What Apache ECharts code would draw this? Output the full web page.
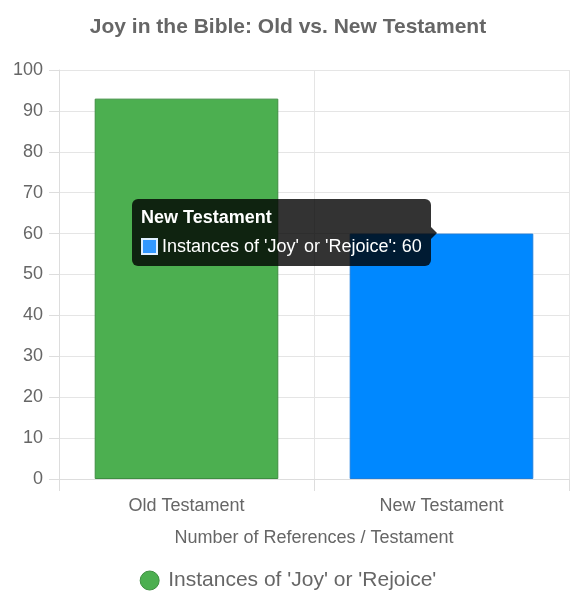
<!DOCTYPE html>
<html>
<head>
<meta charset="utf-8">
<script src="https://cdn.jsdelivr.net/npm/echarts@6/dist/echarts.min.js"></script>
<style>
html, body { margin: 0; padding: 0; background: #fff; }
#chartView { width: 576px; height: 613px; }
</style>
</head>
<body>
<div id="chartView"></div>
<script>
var testaments = ["Old Testament", "New Testament"];
var joyCounts = [93, 60];
var seriesName = "Instances of 'Joy' or 'Rejoice'";
var yTicks = [0, 10, 20, 30, 40, 50, 60, 70, 80, 90, 100];

var barColors = ["#4CAF50", "#0088FF"];
var barBorders = ["#3E8E41", "#1A7FE0"];
var tipSwatch = "#3399FF";
var fontName = "'Liberation Sans', Arial, sans-serif";

var chartView = echarts.init(document.getElementById('chartView'));

var barData = [];
for (var i = 0; i < joyCounts.length; i++) {
	barData.push({
		value: joyCounts[i],
		itemStyle: { color: barColors[i], borderColor: barBorders[i], borderWidth: 1 }
	});
}

var ops = {
	animation: false,
	textStyle: { fontFamily: fontName },
	title: {
		text: 'Joy in the Bible: Old vs. New Testament',
		left: 'center',
		top: 12,
		textStyle: { fontSize: 21, fontWeight: 'bold', color: '#666', fontFamily: fontName }
	},
	grid: { left: 59, right: 7, top: 70, bottom: 134 },
	legend: {
		bottom: 17,
		left: 'center',
		icon: 'circle',
		itemWidth: 19,
		itemHeight: 19,
		itemGap: 10,
		data: [{ name: seriesName, itemStyle: { color: barColors[0], borderColor: barBorders[0], borderWidth: 1 } }],
		textStyle: { fontSize: 21, color: '#666', fontFamily: fontName, padding: [0, 0, 0, 4] }
	},
	tooltip: {
		trigger: 'item',
		triggerOn: 'none',
		alwaysShowContent: true,
		transitionDuration: 0,
		backgroundColor: 'rgba(0,0,0,0.8)',
		borderWidth: 0,
		padding: [7, 9, 8, 9],
		extraCssText: 'border-radius:6px;box-shadow:none;',
		position: function () { return [132, 199]; },
		formatter: function (p) {
			return '<div style="position:relative;font-family:' + fontName.replace(/'/g, '') + ';color:#fff;">' +
				'<div style="font-weight:bold;font-size:18px;line-height:22px;">' + p.name + '</div>' +
				'<div style="font-size:18px;line-height:24px;margin-top:6px;white-space:nowrap;">' +
				'<span style="display:inline-block;width:17px;height:17px;box-sizing:border-box;background:' + tipSwatch +
				';border:2px solid #dfefff;vertical-align:-3px;margin-right:4px;"></span>' +
				p.seriesName + ': ' + p.value + '</div>' +
				'<div style="position:absolute;right:-15px;top:21px;width:0;height:0;border-top:6px solid transparent;border-bottom:6px solid transparent;border-left:6px solid rgba(0,0,0,0.8);"></div>' +
				'</div>';
		}
	},
	xAxis: [{
		type: 'category',
		data: testaments,
		name: 'Number of References / Testament',
		nameLocation: 'middle',
		nameGap: 50,
		nameTextStyle: { fontSize: 18, color: '#666', fontFamily: fontName },
		axisLine: { lineStyle: { color: '#ddd', width: 1 } },
		axisTick: { show: true, length: 12, lineStyle: { color: '#ddd' } },
		axisLabel: { fontSize: 18, color: '#666', margin: 18 },
		splitLine: { show: true, lineStyle: { color: '#e5e5e5', width: 1 } }
	}],
	yAxis: [{
		type: 'value',
		min: yTicks[0],
		max: yTicks[yTicks.length - 1],
		interval: yTicks[1] - yTicks[0],
		axisLine: { show: true, lineStyle: { color: '#ddd', width: 1 } },
		axisTick: { show: true, length: 10, lineStyle: { color: '#ddd' } },
		axisLabel: { fontSize: 18, color: '#666', margin: 16 },
		splitLine: { show: true, lineStyle: { color: '#e5e5e5', width: 1 } }
	}],
	series: [{
		name: seriesName,
		type: 'bar',
		barWidth: '72%',
		itemStyle: { color: barColors[0] },
		data: barData
	}]
};
chartView.setOption(ops);
chartView.dispatchAction({ type: 'showTip', seriesIndex: 0, dataIndex: 1 });
</script>
</body>
</html>
